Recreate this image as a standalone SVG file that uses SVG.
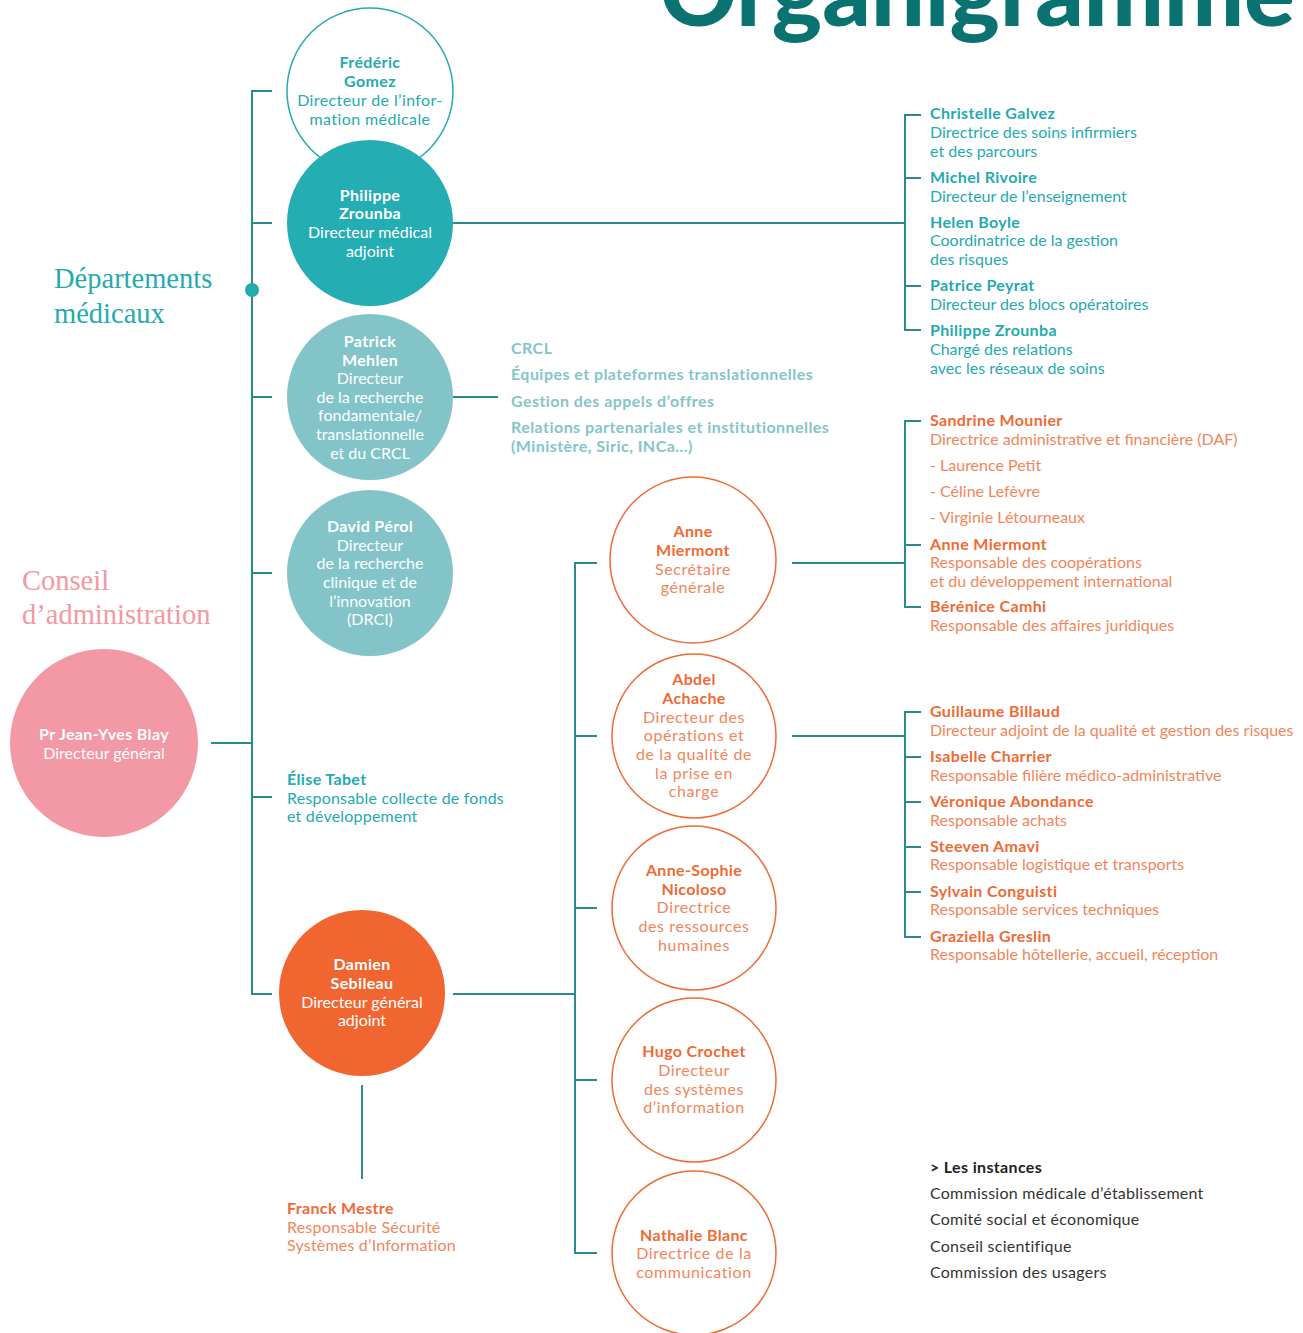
<svg xmlns="http://www.w3.org/2000/svg" width="1303" height="1333" viewBox="0 0 1303 1333">
<style>
text{font-family:Lato,"Liberation Sans",sans-serif;font-size:16px}
.c{text-anchor:middle}
.b{font-weight:bold;letter-spacing:0.35px}
.tl{fill:#24aab0}
.tll{fill:#85c5c9;font-weight:bold;letter-spacing:0.45px}
.w{fill:#ffffff}
.or{fill:#ef6a34}
.orl{fill:#f2855a}
.sp{letter-spacing:0.6px}
.dk{fill:#222222}
.gr{fill:#333333;letter-spacing:0.25px}
.serif{font-family:"Liberation Serif","DejaVu Serif",serif;font-size:28.5px}
.ln{stroke:#2a8a8e;stroke-width:2;fill:none}
</style>
<rect width="1303" height="1333" fill="#ffffff"/>
<text x="660" y="26" textLength="635" lengthAdjust="spacingAndGlyphs" style="font-size:92px;font-weight:900;fill:#0b7272">Organigramme</text>

<g id="connectors" class="ln">
<path d="M272 91H252V994H272M252 223H272M252 397H272M252 573H272M252 797H272M211 743H252"/>
<circle cx="252" cy="290" r="7" fill="#24aab0" stroke="none"/>
<path d="M453 223H905M921 115H905V330H921M905 178H921M905 286H921"/>
<path d="M453 397H498"/>
<path d="M453 994H575M597 563H575V1253H597M575 736H597M575 908H597M575 1080H597"/>
<path d="M362 1085V1179"/>
<path d="M792 563H905M921 421H905V607H921M905 545H921"/>
<path d="M792 736H905M921 712H905V937H921M905 757H921M905 802H921M905 847H921M905 892H921"/>
</g>

<g id="dept-title"><text class="serif" x="54" y="288" fill="#24aab0">Départements</text><text class="serif" x="54" y="323" fill="#24aab0">médicaux</text></g>
<g id="ca-title"><text class="serif" x="22" y="590" fill="#f398a5">Conseil</text><text class="serif" x="22" y="624" fill="#f398a5">d’administration</text></g>

<g id="gomez"><circle cx="370" cy="91" r="83" fill="#fff" stroke="#24aab0" stroke-width="1.5"/>
<text class="c b tl" x="370" y="68">Frédéric</text><text class="c b tl" x="370" y="87">Gomez</text><text class="c tl" x="370" y="106" style="letter-spacing:0.4px">Directeur de l’infor-</text><text class="c tl" x="370" y="125" style="letter-spacing:0.4px">mation médicale</text></g>

<g id="zrounba"><circle cx="370" cy="223" r="83" fill="#24adb2"/>
<text class="c b w" x="370" y="201">Philippe</text><text class="c b w" x="370" y="219">Zrounba</text><text class="c w" x="370" y="238">Directeur médical</text><text class="c w" x="370" y="257">adjoint</text></g>

<g id="mehlen"><circle cx="370" cy="397" r="83" fill="#82c4c8"/>
<text class="c b w" x="370" y="347">Patrick</text><text class="c b w" x="370" y="366">Mehlen</text><text class="c w" x="370" y="384">Directeur</text><text class="c w" x="370" y="403">de la recherche</text><text class="c w" x="370" y="421">fondamentale/</text><text class="c w" x="370" y="440">translationnelle</text><text class="c w" x="370" y="459">et du CRCL</text></g>

<g id="crcl"><text class="tll" x="511" y="354">CRCL</text><text class="tll" x="511" y="380">Équipes et plateformes translationnelles</text><text class="tll" x="511" y="407">Gestion des appels d’offres</text><text class="tll" x="511" y="433">Relations partenariales et institutionnelles</text><text class="tll" x="511" y="452">(Ministère, Siric, INCa…)</text></g>

<g id="perol"><circle cx="370" cy="573" r="83" fill="#82c4c8"/>
<text class="c b w" x="370" y="532">David Pérol</text><text class="c w" x="370" y="551">Directeur</text><text class="c w" x="370" y="569">de la recherche</text><text class="c w" x="370" y="588">clinique et de</text><text class="c w" x="370" y="607">l’innovation</text><text class="c w" x="370" y="625">(DRCI)</text></g>

<g id="blay"><circle cx="104" cy="743" r="94" fill="#f398a5"/>
<text class="c b w" x="104" y="740">Pr Jean-Yves Blay</text><text class="c w" x="104" y="759">Directeur général</text></g>

<g id="tabet"><text class="b tl" x="287" y="785">Élise Tabet</text><text class="tl" x="287" y="804" style="letter-spacing:0.2px">Responsable collecte de fonds</text><text class="tl" x="287" y="822" style="letter-spacing:0.2px">et développement</text></g>

<g id="sebileau"><circle cx="362" cy="993" r="83" fill="#f06530"/>
<text class="c b w" x="362" y="970">Damien</text><text class="c b w" x="362" y="989">Sebileau</text><text class="c w" x="362" y="1008">Directeur général</text><text class="c w" x="362" y="1026">adjoint</text></g>

<g id="mestre"><text class="b or" x="287" y="1214">Franck Mestre</text><text class="orl" x="287" y="1233" style="letter-spacing:0.2px">Responsable Sécurité</text><text class="orl" x="287" y="1251" style="letter-spacing:0.2px">Systèmes d’Information</text></g>

<g id="miermont"><circle cx="693" cy="560" r="83" fill="#fff" stroke="#ef6a34" stroke-width="1.5"/>
<text class="c b or" x="693" y="537">Anne</text><text class="c b or" x="693" y="556">Miermont</text><text class="c orl sp" x="693" y="575">Secrétaire</text><text class="c orl sp" x="693" y="593">générale</text></g>

<g id="achache"><circle cx="694" cy="736" r="82" fill="#fff" stroke="#ef6a34" stroke-width="1.5"/>
<text class="c b or" x="694" y="685">Abdel</text><text class="c b or" x="694" y="704">Achache</text><text class="c orl sp" x="694" y="723">Directeur des</text><text class="c orl sp" x="694" y="741">opérations et</text><text class="c orl sp" x="694" y="760">de la qualité de</text><text class="c orl sp" x="694" y="779">la prise en</text><text class="c orl sp" x="694" y="797">charge</text></g>

<g id="nicoloso"><circle cx="694" cy="908" r="82" fill="#fff" stroke="#ef6a34" stroke-width="1.5"/>
<text class="c b or" x="694" y="876">Anne-Sophie</text><text class="c b or" x="694" y="895">Nicoloso</text><text class="c orl sp" x="694" y="913">Directrice</text><text class="c orl sp" x="694" y="932">des ressources</text><text class="c orl sp" x="694" y="951">humaines</text></g>

<g id="crochet"><circle cx="694" cy="1080" r="82" fill="#fff" stroke="#ef6a34" stroke-width="1.5"/>
<text class="c b or" x="694" y="1057">Hugo Crochet</text><text class="c orl sp" x="694" y="1076">Directeur</text><text class="c orl sp" x="694" y="1095">des systèmes</text><text class="c orl sp" x="694" y="1113">d’information</text></g>

<g id="blanc"><circle cx="694" cy="1253" r="82" fill="#fff" stroke="#ef6a34" stroke-width="1.5"/>
<text class="c b or" x="694" y="1241">Nathalie Blanc</text><text class="c orl sp" x="694" y="1259">Directrice de la</text><text class="c orl sp" x="694" y="1278">communication</text></g>

<g id="med-list">
<text class="b tl" x="930" y="119">Christelle Galvez</text><text class="tl" x="930" y="138">Directrice des soins infirmiers</text><text class="tl" x="930" y="157">et des parcours</text>
<text class="b tl" x="930" y="183">Michel Rivoire</text><text class="tl" x="930" y="202">Directeur de l’enseignement</text>
<text class="b tl" x="930" y="228">Helen Boyle</text><text class="tl" x="930" y="246">Coordinatrice de la gestion</text><text class="tl" x="930" y="265">des risques</text>
<text class="b tl" x="930" y="291">Patrice Peyrat</text><text class="tl" x="930" y="310">Directeur des blocs opératoires</text>
<text class="b tl" x="930" y="336">Philippe Zrounba</text><text class="tl" x="930" y="355">Chargé des relations</text><text class="tl" x="930" y="374">avec les réseaux de soins</text>
</g>

<g id="sg-list">
<text class="b or" x="930" y="426">Sandrine Mounier</text><text class="orl" x="930" y="445">Directrice administrative et financière (DAF)</text>
<text class="orl" x="930" y="471">- Laurence Petit</text><text class="orl" x="930" y="497">- Céline Lefèvre</text><text class="orl" x="930" y="523">- Virginie Létourneaux</text>
<text class="b or" x="930" y="550">Anne Miermont</text><text class="orl" x="930" y="568">Responsable des coopérations</text><text class="orl" x="930" y="587">et du développement international</text>
<text class="b or" x="930" y="612">Bérénice Camhi</text><text class="orl" x="930" y="631">Responsable des affaires juridiques</text>
</g>

<g id="ops-list">
<text class="b or" x="930" y="717">Guillaume Billaud</text><text class="orl" x="930" y="736">Directeur adjoint de la qualité et gestion des risques</text>
<text class="b or" x="930" y="762">Isabelle Charrier</text><text class="orl" x="930" y="781">Responsable filière médico-administrative</text>
<text class="b or" x="930" y="807">Véronique Abondance</text><text class="orl" x="930" y="826">Responsable achats</text>
<text class="b or" x="930" y="852">Steeven Amavi</text><text class="orl" x="930" y="870">Responsable logistique et transports</text>
<text class="b or" x="930" y="897">Sylvain Conguisti</text><text class="orl" x="930" y="915">Responsable services techniques</text>
<text class="b or" x="930" y="942">Graziella Greslin</text><text class="orl" x="930" y="960">Responsable hôtellerie, accueil, réception</text>
</g>

<g id="instances">
<text class="b dk" x="930" y="1173">&gt; Les instances</text>
<text class="gr" x="930" y="1199">Commission médicale d’établissement</text>
<text class="gr" x="930" y="1225">Comité social et économique</text>
<text class="gr" x="930" y="1252">Conseil scientifique</text>
<text class="gr" x="930" y="1278">Commission des usagers</text>
</g>
</svg>
